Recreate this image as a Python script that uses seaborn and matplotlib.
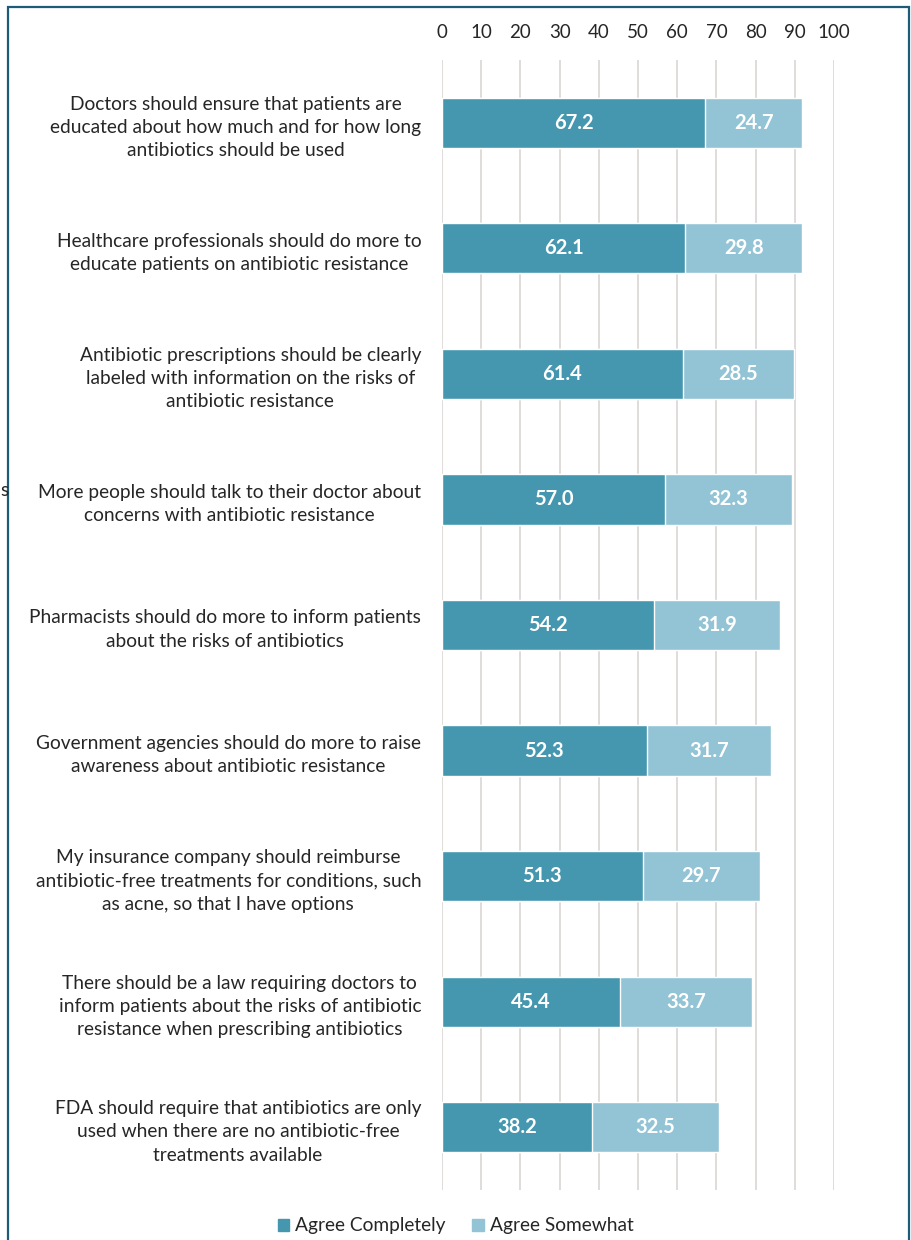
import matplotlib
matplotlib.use("Agg")
import matplotlib.pyplot as plt
import matplotlib.patches as mpatches
import seaborn as sns
import pandas as pd

categories = [
    "Doctors should ensure that patients are\neducated about how much and for how long\nantibiotics should be used",
    "Healthcare professionals should do more to\neducate patients on antibiotic resistance",
    "Antibiotic prescriptions should be clearly\nlabeled with information on the risks of\nantibiotic resistance",
    "More people should talk to their doctor about\nconcerns with antibiotic resistance",
    "Pharmacists should do more to inform patients\nabout the risks of antibiotics",
    "Government agencies should do more to raise\nawareness about antibiotic resistance",
    "My insurance company should reimburse\nantibiotic-free treatments for conditions, such\nas acne, so that I have options",
    "There should be a law requiring doctors to\ninform patients about the risks of antibiotic\nresistance when prescribing antibiotics",
    "FDA should require that antibiotics are only\nused when there are no antibiotic-free\ntreatments available",
]
agree_completely = [67.2, 62.1, 61.4, 57.0, 54.2, 52.3, 51.3, 45.4, 38.2]
agree_somewhat = [24.7, 29.8, 28.5, 32.3, 31.9, 31.7, 29.7, 33.7, 32.5]
series_names = ["Agree Completely", "Agree Somewhat"]
x_ticks = [0, 10, 20, 30, 40, 50, 60, 70, 80, 90, 100]

DARK = "#4597b0"
LIGHT = "#93c4d6"
TEXT = "#262626"
GRID = "#d9d5d3"
BORDER = "#1d5c78"

sns.set_theme(style="white")
plt.rcParams["font.family"] = ["Lato", "DejaVu Sans"]

df = pd.DataFrame({
    "category": categories,
    "complete": agree_completely,
    "somewhat": agree_somewhat,
})
df["total"] = df["complete"] + df["somewhat"]

fig = plt.figure(figsize=(9.11, 12.4), dpi=100)
ax = fig.add_axes([442 / 911, 1 - 1190 / 1240, (834 - 442) / 911, (1190 - 60) / 1240])

sns.barplot(data=df, x="total", y="category", color=LIGHT, orient="h",
            width=0.40, saturation=1, ax=ax, zorder=2)
sns.barplot(data=df, x="complete", y="category", color=DARK, orient="h",
            width=0.40, saturation=1, ax=ax, zorder=3)

ax.set_xlim(0, 100)
ax.set_ylim(8.5, -0.5)
ax.set_xticks(x_ticks)
ax.xaxis.tick_top()
ax.tick_params(axis="x", length=0, pad=14, labelsize=13.5, labelcolor=TEXT)
ax.tick_params(axis="y", length=0, pad=15, labelsize=13.8, labelcolor=TEXT)
for lbl in ax.get_yticklabels():
    lbl.set_multialignment("center")
    lbl.set_linespacing(1.45)
ax.set_xlabel("")
ax.set_ylabel("")
ax.grid(axis="x", color=GRID, linewidth=1.2, zorder=0)
ax.set_axisbelow(True)
for s in ax.spines.values():
    s.set_visible(False)

for i, (c, s) in enumerate(zip(agree_completely, agree_somewhat)):
    ax.text(c / 2, i, f"{c:.1f}", ha="center", va="center", color="white",
            fontsize=14.5, fontweight="bold", zorder=5)
    ax.text(c + s / 2, i, f"{s:.1f}", ha="center", va="center", color="white",
            fontsize=14.5, fontweight="bold", zorder=5)

handles = [mpatches.Patch(color=DARK, label=series_names[0]),
           mpatches.Patch(color=LIGHT, label=series_names[1])]
fig.legend(handles=handles, loc="center", bbox_to_anchor=(0.5, 1 - 1226 / 1240),
           ncol=2, frameon=False, fontsize=13.8, handlelength=0.6, handleheight=0.6,
           handletextpad=0.3, columnspacing=1.4, labelcolor=TEXT)

# outer frame
fig.add_artist(mpatches.Rectangle((8 / 911, -0.05), (909 - 8) / 911, 1.05 - 7 / 1240,
                                  transform=fig.transFigure, fill=False,
                                  edgecolor=BORDER, linewidth=1.6))
fig.text(0 / 911, 1 - 490 / 1240, "s", ha="left", va="center", fontsize=13.8, color=TEXT)

fig.savefig("out.png", dpi=100)
